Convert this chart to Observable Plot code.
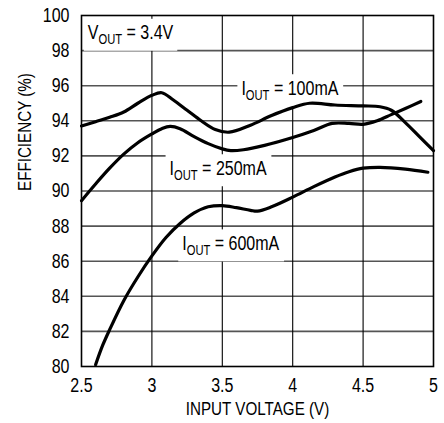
<!DOCTYPE html>
<html><head><meta charset="utf-8">
<script src="https://cdn.jsdelivr.net/npm/d3@7"></script>
<script src="https://cdn.jsdelivr.net/npm/@observablehq/plot@0.6"></script>
<style>
body{margin:0;background:#fff}
#chart svg{display:block}
</style>
</head><body><div id="chart"></div>
<script>
// Input voltage (V) / efficiency (%) for each output current
const v100 = [2.5, 2.6, 2.7, 2.8, 2.9, 3.0, 3.07, 3.15, 3.25, 3.35, 3.45, 3.55, 3.7, 3.85, 4.0, 4.12, 4.3, 4.5, 4.62, 4.7, 4.8, 4.9, 5.0];
const e100 = [93.7, 93.95, 94.2, 94.5, 95.0, 95.45, 95.6, 95.2, 94.6, 94.0, 93.5, 93.35, 93.75, 94.3, 94.75, 95.0, 94.9, 94.85, 94.8, 94.6, 93.9, 93.1, 92.3];

const v250 = [2.5, 2.6, 2.7, 2.8, 2.9, 3.0, 3.07, 3.13, 3.2, 3.3, 3.4, 3.5, 3.56, 3.65, 3.8, 4.0, 4.15, 4.28, 4.4, 4.5, 4.6, 4.7, 4.8, 4.91];
const e250 = [89.45, 90.4, 91.3, 92.1, 92.75, 93.25, 93.55, 93.68, 93.55, 93.1, 92.7, 92.4, 92.3, 92.35, 92.6, 93.05, 93.45, 93.85, 93.85, 93.8, 94.0, 94.35, 94.7, 95.1];

const v600 = [2.6, 2.65, 2.7, 2.8, 2.9, 3.0, 3.1, 3.2, 3.3, 3.4, 3.5, 3.6, 3.7, 3.75, 3.85, 4.0, 4.15, 4.3, 4.4, 4.5, 4.62, 4.8, 4.96];
const e600 = [80.1, 81.2, 82.1, 83.75, 85.1, 86.3, 87.35, 88.15, 88.75, 89.1, 89.17, 89.05, 88.9, 88.85, 89.1, 89.65, 90.25, 90.8, 91.1, 91.3, 91.35, 91.25, 91.07];

const xTicks = [2.5, 3, 3.5, 4, 4.5, 5];
const xTickLabels = ["2.5", "3", "3.5", "4", "4.5", "5"];
const yTicks = [80, 82, 84, 86, 88, 90, 92, 94, 96, 98, 100];
const yTickLabels = ["80", "82", "84", "86", "88", "90", "92", "94", "96", "98", "100"];

const xLabel = "INPUT VOLTAGE (V)";
const yLabel = "EFFICIENCY (%)";

// Annotation labels (text, anchor point in data units)
const labelTexts = ["VOUT = 3.4V", "IOUT = 100mA", "IOUT = 250mA", "IOUT = 600mA"];
const labelX = [2.545, 3.98, 3.47, 3.56];
const labelY = [99.0, 95.84, 91.28, 87.0];
const labelAnchor = ["start", "middle", "middle", "middle"];

const series = [
  v100.map((v, i) => ({v, e: e100[i], s: "100"})),
  v250.map((v, i) => ({v, e: e250[i], s: "250"})),
  v600.map((v, i) => ({v, e: e600[i], s: "600"}))
].flat();

const labels = labelTexts.map((t, i) => ({t, x: labelX[i], y: labelY[i], a: labelAnchor[i]}));

const FONT = "'Liberation Sans',Arial,sans-serif";
const SQUEEZE = 0.8; // condensed look

const chart = Plot.plot({
  width: 444,
  height: 423,
  marginLeft: 81,
  marginRight: 11,
  marginTop: 15,
  marginBottom: 57,
  style: {fontFamily: FONT, fontSize: "20px", color: "#000", background: "#fff"},
  x: {domain: [2.5, 5], ticks: xTicks, tickFormat: (d) => xTickLabels[xTicks.indexOf(d)], tickSize: 0, tickPadding: 11, label: null},
  y: {domain: [80, 100], ticks: yTicks, tickFormat: (d) => yTickLabels[yTicks.indexOf(d)], tickSize: 0, tickPadding: 12, label: null},
  marks: [
    Plot.ruleY(yTicks.slice(1, -1), {stroke: "#555", strokeWidth: 1.6}),
    Plot.ruleX(xTicks.slice(1, -1), {stroke: "#000", strokeWidth: 1.1}),
    Plot.text(labels.filter(d => d.a === "start"), {x: "x", y: "y", text: "t", textAnchor: "start", fill: "#000", fontSize: 20}),
    Plot.text(labels.filter(d => d.a === "middle"), {x: "x", y: "y", text: "t", textAnchor: "middle", fill: "#000", fontSize: 20}),
    Plot.line(series, {x: "v", y: "e", z: "s", stroke: "#000", strokeWidth: 3.2, curve: "catmull-rom"}),
    Plot.frame({stroke: "#000", strokeWidth: 1.6}),
    Plot.text([xLabel], {frameAnchor: "bottom", dy: 48, text: (d) => d, fill: "#000", fontSize: 19}),
    Plot.text([yLabel], {frameAnchor: "left", dx: -57, rotate: -90, text: (d) => d, fill: "#000", fontSize: 19})
  ]
});

document.getElementById("chart").appendChild(chart);

const svg = d3.select(chart);
// horizontally condense every text (narrow Helvetica look)
svg.selectAll("text").each(function () {
  const t = this.getAttribute("transform") || "";
  this.setAttribute("transform", (t + ` scale(${SQUEEZE},1)`).trim());
  const x = this.getAttribute("x");
  if (x != null && x !== "") this.setAttribute("x", (+x) / SQUEEZE);
});

// subscripts + white boxes behind annotation labels
svg.selectAll("text").filter(function () { return /^[IV]OUT/.test(this.textContent); }).each(function () {
  const el = d3.select(this);
  const txt = this.textContent;
  el.text(null);
  el.append("tspan").text(txt.slice(0, 1));
  el.append("tspan").attr("font-size", 14).attr("dy", 5).text("OUT");
  el.append("tspan").attr("dy", -5).text(txt.slice(4));
  const bb = this.getBBox();
  const padX = 5, padY = 3;
  d3.select(this.parentNode).insert("rect", ":first-child")
    .attr("transform", this.getAttribute("transform"))
    .attr("x", bb.x - padX).attr("y", bb.y - padY)
    .attr("width", bb.width + 2 * padX).attr("height", bb.height + 2 * padY)
    .attr("fill", "#fff");
});
</script>
</body></html>
